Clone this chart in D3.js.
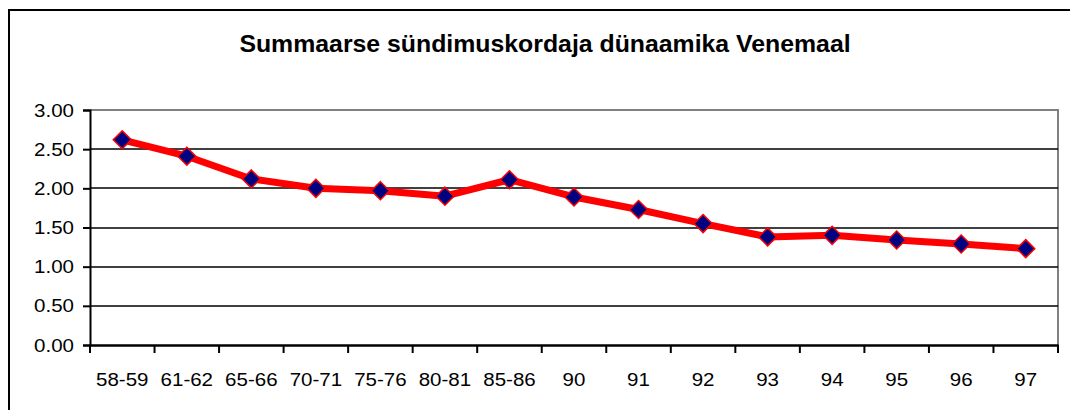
<!DOCTYPE html>
<html>
<head>
<meta charset="utf-8">
<script src="https://cdn.jsdelivr.net/npm/d3@7"></script>
<style>
  html, body { margin: 0; padding: 0; background: #fff; }
  svg { display: block; font-family: "Liberation Sans", Arial, sans-serif; }
</style>
</head>
<body>
<div id="chart"></div>
<script>
// data
const categories = ["58-59", "61-62", "65-66", "70-71", "75-76", "80-81", "85-86", "90", "91", "92", "93", "94", "95", "96", "97"];
const rates = [2.62, 2.41, 2.12, 2.00, 1.97, 1.90, 2.11, 1.89, 1.73, 1.55, 1.38, 1.40, 1.34, 1.29, 1.23];
const yTicks = [0, 0.5, 1, 1.5, 2, 2.5, 3];
const title = "Summaarse sündimuskordaja dünaamika Venemaal";

const W = 1070, H = 410;
const plot = { left: 90, right: 1058, top: 110, bottom: 345 };
const stretch = 1.08; // the reference text is drawn slightly wide

const svg = d3.select("#chart").append("svg")
    .attr("width", W).attr("height", H);

// outer chart frame (right and bottom edges fall outside the picture)
svg.append("rect")
    .attr("x", 9).attr("y", 10)
    .attr("width", 1080).attr("height", 420)
    .attr("fill", "#fff").attr("stroke", "#000").attr("stroke-width", 2);

svg.append("text")
    .attr("transform", `translate(545,52) scale(${stretch},1)`)
    .attr("text-anchor", "middle")
    .style("font-size", "23px").style("font-weight", "bold")
    .text(title);

// scales
const x = d3.scaleBand().domain(categories).range([plot.left, plot.right]);
const y = d3.scaleLinear().domain([0, 3]).range([plot.bottom, plot.top]);

// plot area border (grey top/right)
svg.append("path")
    .attr("d", `M${plot.left},${plot.top}H${plot.right}V${plot.bottom}`)
    .attr("fill", "none").attr("stroke", "#808080").attr("stroke-width", 2);

// grid lines
svg.append("g")
    .selectAll("line")
    .data(yTicks.filter(d => d > 0 && d < 3))
    .enter().append("line")
    .attr("x1", plot.left).attr("x2", plot.right)
    .attr("y1", d => Math.round(y(d))).attr("y2", d => Math.round(y(d)))
    .attr("stroke", "#000").attr("stroke-width", 1.5);

// y axis
const yAxis = svg.append("g")
    .attr("transform", `translate(${plot.left},0)`)
    .call(d3.axisLeft(y).tickValues(yTicks).tickFormat(d3.format(".2f")).tickSize(7).tickPadding(9));
yAxis.select(".domain").attr("stroke-width", 2);
yAxis.selectAll(".tick line").attr("stroke-width", 2);
yAxis.selectAll("text")
    .style("font-size", "19px").attr("fill", "#000")
    .attr("transform", `scale(${stretch},1)`)
    .attr("x", -16 / stretch);

// x axis (ticks between categories)
const xAxis = svg.append("g")
    .attr("transform", `translate(0,${plot.bottom})`)
    .call(d3.axisBottom(x).tickSize(0).tickPadding(28));
xAxis.select(".domain").attr("stroke-width", 2.5);
xAxis.selectAll("text")
    .style("font-size", "19px").attr("fill", "#000")
    .attr("transform", `scale(${stretch},1)`);

svg.append("g")
    .selectAll("line")
    .data(categories.concat([null]))
    .enter().append("line")
    .attr("x1", (d, i) => plot.left + i * x.step())
    .attr("x2", (d, i) => plot.left + i * x.step())
    .attr("y1", plot.bottom).attr("y2", plot.bottom + 8)
    .attr("stroke", "#000").attr("stroke-width", 2);

// series line
const line = d3.line()
    .x((d, i) => x(categories[i]) + x.bandwidth() / 2)
    .y(d => y(d));

svg.append("path")
    .datum(rates)
    .attr("d", line)
    .attr("fill", "none")
    .attr("stroke", "#ff0000")
    .attr("stroke-width", 7)
    .attr("stroke-linejoin", "round");

// diamond markers
svg.append("g")
    .selectAll("path")
    .data(rates)
    .enter().append("path")
    .attr("transform", (d, i) => `translate(${x(categories[i]) + x.bandwidth() / 2},${y(d)})`)
    .attr("d", "M0,-9L9,0L0,9L-9,0Z")
    .attr("fill", "#000080")
    .attr("stroke", "#ff0000")
    .attr("stroke-width", 1.5);
</script>
</body>
</html>
